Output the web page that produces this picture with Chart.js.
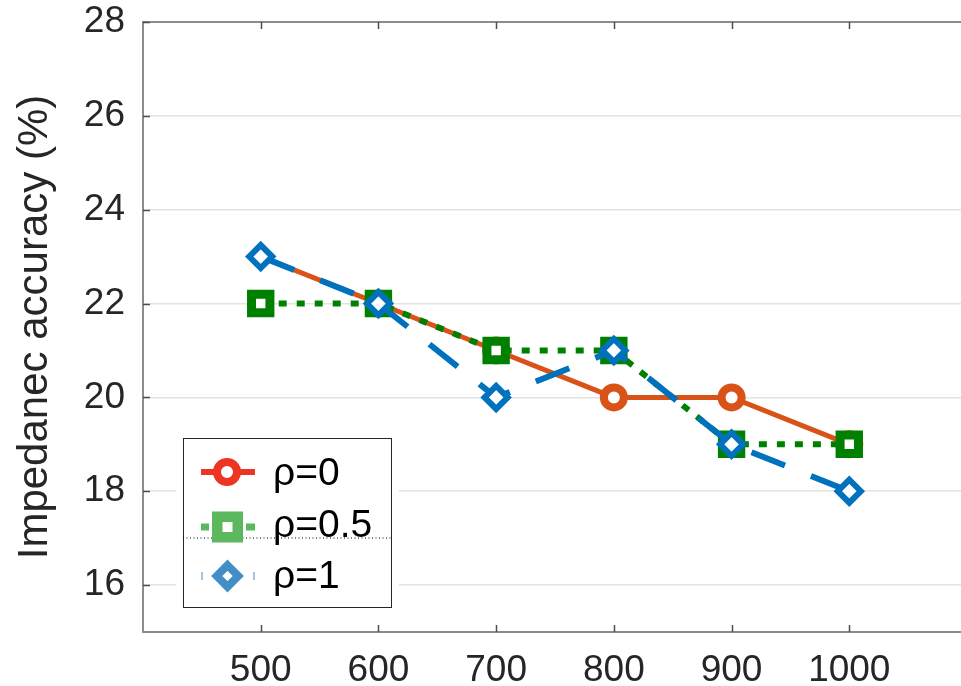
<!DOCTYPE html>
<html>
<head>
<meta charset="utf-8">
<script src="https://cdn.jsdelivr.net/npm/chart.js@4"></script>
<style>
  html, body { margin: 0; padding: 0; background: #fff; overflow: hidden; }
  #wrap { position: relative; width: 1100px; height: 686px; }
  #grafico { display: block; }
  #legend {
    position: absolute; left: 183px; top: 438px; width: 209px; height: 170px;
    box-sizing: border-box; border: 1px solid #262626; background: #fff;
    box-shadow: 0 0 0 7px #fff;
  }
  #legend svg { position: absolute; left: -1px; top: -1px; }
  #legend text { font-family: "Liberation Sans", Arial, sans-serif; font-size: 39px; fill: #000; }
</style>
</head>
<body>
<div id="wrap">
  <canvas id="grafico" width="975" height="686"></canvas>
  <div id="legend">
    <svg width="209" height="170">
      <line x1="0" y1="100" x2="209" y2="100" stroke="#000" stroke-width="1" stroke-dasharray="1 2.5"/>
      <!-- rho = 0 -->
      <line x1="18" y1="34" x2="72" y2="34" stroke="#ee3524" stroke-width="6"/>
      <circle cx="44" cy="34" r="10" fill="#fff" stroke="#ee3524" stroke-width="8"/>
      <text x="90" y="47">ρ=0</text>
      <!-- rho = 0.5 -->
      <line x1="18" y1="89" x2="26" y2="89" stroke="#5cb85c" stroke-width="7"/>
      <line x1="63" y1="89" x2="72" y2="89" stroke="#5cb85c" stroke-width="7"/>
      <rect x="34.25" y="78.75" width="20.5" height="20.5" fill="#fff" stroke="#5cb85c" stroke-width="10.5"/>
      <text x="90" y="99">ρ=0.5</text>
      <!-- rho = 1 -->
      <line x1="19" y1="134" x2="19" y2="142" stroke="#7fb3dc" stroke-width="1.5"/>
      <line x1="71" y1="134" x2="71" y2="142" stroke="#7fb3dc" stroke-width="1.5"/>
      <polygon points="44.5,127.25 55.25,138 44.5,148.75 33.75,138" fill="#fff" stroke="#428fc7" stroke-width="8"/>
      <text x="90" y="150">ρ=1</text>
    </svg>
  </div>
</div>
<script>
const tamanos = [500, 600, 700, 800, 900, 1000];
const rho0 = [23, 22, 21, 20, 20, 19];
const rho05 = [22, 22, 21, 21, 19, 19];
const rho1 = [23, 22, 20, 21, 19, 18];
const yTicks = [16, 18, 20, 22, 24, 26, 28];
const xTicks = [500, 600, 700, 800, 900, 1000];

const FONT = '"Liberation Sans", Arial, sans-serif';

function puntos(serie) {
  return tamanos.map((x, i) => ({ x, y: serie[i] }));
}

// MATLAB-style box: top border and inward tick marks
const marcoPlugin = {
  id: 'marco',
  afterDraw(chart) {
    const { ctx, chartArea: a, scales } = chart;
    ctx.save();
    ctx.strokeStyle = '#8c8c8c';
    ctx.lineWidth = 2;
    ctx.beginPath();
    ctx.moveTo(a.left, a.top);
    ctx.lineTo(a.right, a.top);
    ctx.stroke();

    ctx.strokeStyle = '#4d4d4d';
    ctx.lineWidth = 1.5;
    ctx.beginPath();
    scales.x.ticks.forEach(t => {
      const px = Math.round(scales.x.getPixelForValue(t.value)) + 0.5;
      ctx.moveTo(px, a.bottom);
      ctx.lineTo(px, a.bottom - 7);
      ctx.moveTo(px, a.top);
      ctx.lineTo(px, a.top + 7);
    });
    scales.y.ticks.forEach(t => {
      const py = Math.round(scales.y.getPixelForValue(t.value)) + 0.5;
      ctx.moveTo(a.left, py);
      ctx.lineTo(a.left + 7, py);
    });
    ctx.stroke();
    ctx.restore();
  }
};

const grafico = new Chart(document.getElementById('grafico').getContext('2d'), {
  type: 'line',
  data: {
    datasets: [
      {
        label: 'ρ=0',
        data: puntos(rho0),
        borderColor: '#d95319',
        borderWidth: 5,
        pointStyle: 'circle',
        // first marker sits under the rho=1 diamond in the original
        pointRadius: ctx => (ctx.dataIndex === 0 ? 0 : 10),
        pointBorderWidth: 8,
        pointBackgroundColor: '#fff',
        pointBorderColor: '#d95319',
        order: 3
      },
      {
        label: 'ρ=0.5',
        data: puntos(rho05),
        borderColor: '#008000',
        borderWidth: 6,
        borderDash: [8, 10],
        pointStyle: 'rect',
        pointRadius: 13,
        pointBorderWidth: 9,
        pointBackgroundColor: '#fff',
        pointBorderColor: '#008000',
        order: 2
      },
      {
        label: 'ρ=1',
        data: puntos(rho1),
        borderColor: '#0072bd',
        borderWidth: 6,
        borderDash: [36, 28],
        pointStyle: 'rectRot',
        pointRadius: 11.5,
        pointBorderWidth: 6,
        pointBackgroundColor: '#fff',
        pointBorderColor: '#0072bd',
        order: 1
      }
    ]
  },
  options: {
    responsive: false,
    maintainAspectRatio: false,
    animation: false,
    layout: { padding: { top: 22, right: 8, left: 0, bottom: 0 } },
    plugins: {
      legend: { display: false },
      tooltip: { enabled: false }
    },
    scales: {
      x: {
        type: 'linear',
        min: 400,
        max: 1100,
        afterBuildTicks: s => { s.ticks = xTicks.map(v => ({ value: v })); },
        afterFit: s => { s.height = 54; s.paddingLeft = 0; s.paddingRight = 0; },
        grid: { display: false, drawTicks: false },
        border: { display: true, color: '#8c8c8c', width: 2 },
        ticks: {
          padding: 17,
          color: '#262626',
          font: { family: FONT, size: 37 },
          callback: v => String(v)
        }
      },
      y: {
        min: 15,
        max: 28,
        afterBuildTicks: s => { s.ticks = yTicks.map(v => ({ value: v })); },
        afterFit: s => { s.width = 143; s.paddingTop = 0; s.paddingBottom = 0; },
        grid: { color: '#e3e3e3', lineWidth: 1.5, drawTicks: false },
        border: { display: true, color: '#8c8c8c', width: 2 },
        ticks: {
          padding: 18,
          color: '#262626',
          font: { family: FONT, size: 37 }
        },
        title: {
          display: true,
          text: 'Impedanec accuracy (%)',
          color: '#262626',
          font: { family: FONT, size: 42, lineHeight: 1.2 },
          padding: { top: 10, bottom: 0 }
        }
      }
    }
  },
  plugins: [marcoPlugin]
});

// the plot box runs past the right edge of the picture (x = 1100 at ~967 px)
for (let i = 0; i < 3; i++) {
  const ajuste = 967 - grafico.chartArea.right;
  if (Math.abs(ajuste) < 0.5) break;
  grafico.resize(Math.round(grafico.width + ajuste), 686);
}
</script>
</body>
</html>
